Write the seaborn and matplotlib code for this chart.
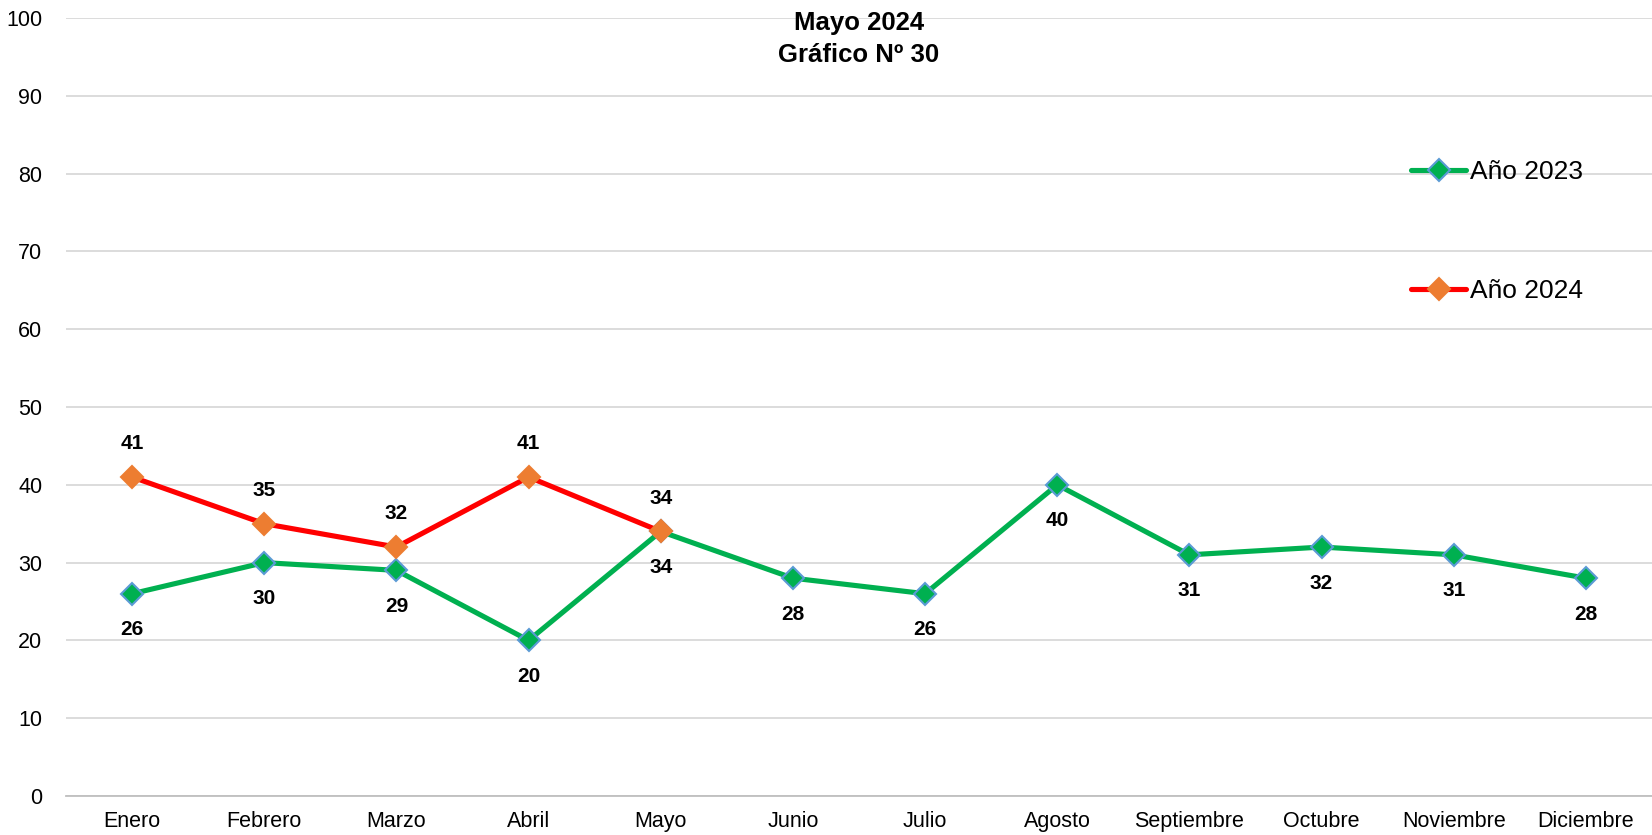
import seaborn as sns
import matplotlib.pyplot as plt
import pandas as pd
import numpy as np

meses = ['Enero', 'Febrero', 'Marzo', 'Abril', 'Mayo', 'Junio', 'Julio',
         'Agosto', 'Septiembre', 'Octubre', 'Noviembre', 'Diciembre']
valores_2023 = [26, 30, 29, 20, 34, 28, 26, 40, 31, 32, 31, 28]
valores_2024 = [41, 35, 32, 41, 34]

sns.set_theme(style='white')
plt.rcParams['font.family'] = ['Liberation Sans', 'DejaVu Sans']
plt.rcParams['text.color'] = 'black'
plt.rcParams['xtick.color'] = 'black'
plt.rcParams['ytick.color'] = 'black'

df23 = pd.DataFrame({'x': np.arange(len(valores_2023)), 'valor': valores_2023})
df24 = pd.DataFrame({'x': np.arange(len(valores_2024)), 'valor': valores_2024})

fig = plt.figure(figsize=(16.52, 8.35), dpi=100)
ax = fig.add_axes([66 / 1652, 1 - 796 / 835, (1652 - 66) / 1652, (796 - 18) / 835])

sns.lineplot(data=df23, x='x', y='valor', ax=ax, color='#00B050', linewidth=3.7,
             marker='D', markersize=11, markerfacecolor='#00B050',
             markeredgecolor='#5B9BD5', markeredgewidth=1.5, label='Año 2023')
sns.lineplot(data=df24, x='x', y='valor', ax=ax, color='#FF0000', linewidth=3.7,
             marker='D', markersize=11, markerfacecolor='#ED7D31',
             markeredgecolor='#ED7D31', markeredgewidth=1.5, label='Año 2024')

# etiquetas de datos
for i, v in enumerate(valores_2023):
    ax.annotate(str(v), (i, v), xytext=(0, -26), textcoords='offset points',
                ha='center', va='center', fontsize=15, fontweight='bold')
for i, v in enumerate(valores_2024):
    ax.annotate(str(v), (i, v), xytext=(0, 24), textcoords='offset points',
                ha='center', va='center', fontsize=15, fontweight='bold')

ax.set_xlim(-0.5, len(meses) - 0.5)
ax.set_ylim(0, 100)
ax.set_yticks(range(0, 101, 10))
ax.set_xticks(range(len(meses)))
ax.set_xticklabels(meses)
ax.set_xticks(np.arange(-0.5, len(meses), 1), minor=True)
ax.tick_params(axis='x', which='major', length=0, labelsize=15.5, pad=11)
ax.tick_params(axis='x', which='minor', length=6, color='#BFBFBF', width=1.2)
ax.tick_params(axis='y', length=0, labelsize=15.5, pad=17)
ax.set_xlabel('')
ax.set_ylabel('')
ax.grid(axis='y', color='#D9D9D9', linewidth=1.3)
for s in ['top', 'right', 'left']:
    ax.spines[s].set_visible(False)
ax.spines['bottom'].set_color('#BFBFBF')
ax.spines['bottom'].set_linewidth(1.3)

ax.text(0.5, 0.993, 'Mayo 2024', transform=ax.transAxes,
        ha='center', va='center', fontsize=18.5, fontweight='bold')
ax.text(0.5, 0.953, 'Gráfico Nº 30', transform=ax.transAxes,
        ha='center', va='center', fontsize=18.5, fontweight='bold')

ax.legend(loc='center left', bbox_to_anchor=(0.833, 0.725), frameon=False,
          fontsize=19, labelspacing=3.6, handlelength=2.1, handletextpad=0.15)

fig.savefig('out.png', dpi=100)
